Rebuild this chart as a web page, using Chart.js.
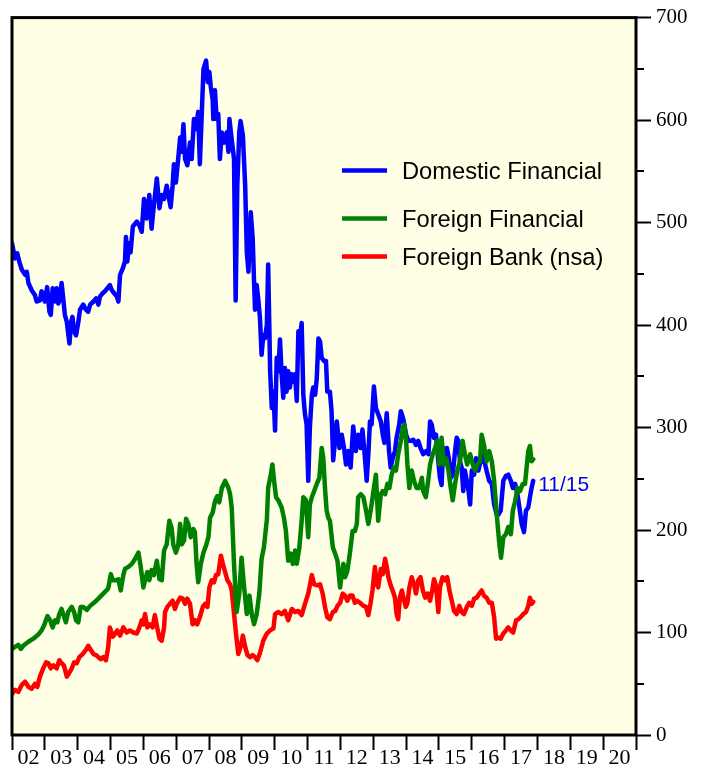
<!DOCTYPE html>
<html>
<head>
<meta charset="utf-8">
<script src="https://cdn.jsdelivr.net/npm/chart.js@4/dist/chart.umd.min.js"></script>
<style>
html,body{margin:0;padding:0;background:#fff;}
canvas{display:block;}
</style>
</head>
<body>
<canvas id="c" width="708" height="767"></canvas>
<script>
// ---- Data (decimal year, level) ----
const yearLabels = ['02','03','04','05','06','07','08','09','10','11','12','13','14','15','16','17','18','19','20'];
const yTickValues = [0,100,200,300,400,500,600,700];
const endLabel = '11/15';

const seriesNames = ['Domestic Financial','Foreign Financial','Foreign Bank (nsa)'];

const domYears = [2002.00,2002.09,2002.16,2002.22,2002.30,2002.40,2002.45,2002.50,2002.60,2002.70,2002.75,2002.85,2002.90,2002.95,2003.00,2003.07,2003.14,2003.18,2003.24,2003.31,2003.36,2003.41,2003.46,2003.51,2003.56,2003.61,2003.67,2003.71,2003.75,2003.80,2003.84,2003.89,2003.95,2004.02,2004.07,2004.17,2004.25,2004.32,2004.38,2004.48,2004.56,2004.63,2004.68,2004.76,2004.83,2004.93,2004.98,2005.04,2005.11,2005.19,2005.24,2005.29,2005.37,2005.44,2005.47,2005.51,2005.57,2005.61,2005.68,2005.75,2005.80,2005.88,2005.95,2006.02,2006.10,2006.18,2006.25,2006.32,2006.41,2006.49,2006.56,2006.63,2006.71,2006.76,2006.83,2006.89,2006.93,2006.99,2007.06,2007.12,2007.17,2007.22,2007.27,2007.34,2007.42,2007.47,2007.54,2007.60,2007.67,2007.72,2007.78,2007.83,2007.91,2007.96,2008.01,2008.05,2008.11,2008.13,2008.18,2008.23,2008.28,2008.33,2008.39,2008.46,2008.54,2008.59,2008.62,2008.69,2008.76,2008.81,2008.86,2008.92,2008.96,2009.03,2009.10,2009.15,2009.20,2009.27,2009.33,2009.37,2009.40,2009.45,2009.50,2009.55,2009.60,2009.65,2009.70,2009.76,2009.80,2009.86,2009.91,2009.96,2010.01,2010.06,2010.11,2010.16,2010.21,2010.26,2010.31,2010.36,2010.41,2010.46,2010.52,2010.57,2010.62,2010.67,2010.72,2010.77,2010.82,2010.87,2010.92,2010.97,2011.02,2011.07,2011.13,2011.17,2011.23,2011.28,2011.33,2011.38,2011.43,2011.50,2011.56,2011.60,2011.68,2011.73,2011.78,2011.89,2011.97,2012.04,2012.11,2012.17,2012.24,2012.31,2012.39,2012.47,2012.54,2012.62,2012.67,2012.73,2012.80,2012.85,2012.90,2012.95,2013.02,2013.08,2013.15,2013.23,2013.29,2013.34,2013.41,2013.48,2013.53,2013.59,2013.66,2013.71,2013.79,2013.84,2013.91,2014.00,2014.07,2014.14,2014.22,2014.30,2014.37,2014.44,2014.52,2014.61,2014.68,2014.73,2014.78,2014.85,2014.91,2014.98,2015.03,2015.08,2015.13,2015.18,2015.24,2015.30,2015.36,2015.42,2015.49,2015.54,2015.59,2015.64,2015.69,2015.74,2015.79,2015.85,2015.89,2015.95,2016.00,2016.07,2016.13,2016.20,2016.25,2016.30,2016.35,2016.40,2016.45,2016.53,2016.61,2016.68,2016.76,2016.81,2016.88,2016.96,2017.04,2017.11,2017.19,2017.25,2017.32,2017.39,2017.45,2017.52,2017.59,2017.65,2017.72,2017.77,2017.82,2017.87];
const domValues = [480,465,470,462,454,449,452,441,434,429,423,424,433,428,423,437,413,410,436,423,436,421,426,441,426,410,403,392,382,403,408,394,390,403,415,420,415,413,420,423,426,420,428,431,433,437,439,434,431,428,423,449,455,462,486,462,480,471,496,499,501,497,491,523,504,527,494,517,543,514,527,523,536,527,515,536,557,539,562,583,569,596,562,556,578,562,601,591,608,557,608,650,658,637,647,633,620,601,629,601,606,562,588,578,588,569,601,581,562,424,536,588,599,585,536,471,452,510,484,442,415,439,425,407,371,390,387,400,459,355,319,335,297,368,355,386,352,329,358,335,355,339,352,345,352,326,394,387,402,332,313,303,248,300,332,339,332,348,387,384,368,365,365,335,335,316,268,306,280,293,280,264,277,261,301,277,293,280,298,277,248,274,306,303,340,319,313,306,293,285,314,277,261,270,277,290,303,316,309,293,287,287,288,283,287,280,274,277,274,306,303,290,293,267,251,244,280,270,280,270,251,254,277,290,287,267,261,238,258,248,241,225,258,254,270,258,265,267,274,265,258,248,245,225,215,215,219,248,253,254,248,241,245,235,222,206,198,219,222,232,241,248];

const forYears = [2002.00,2002.09,2002.19,2002.27,2002.34,2002.50,2002.65,2002.80,2002.90,2002.98,2003.08,2003.16,2003.24,2003.31,2003.38,2003.44,2003.51,2003.56,2003.64,2003.71,2003.82,2003.89,2003.95,2004.02,2004.09,2004.17,2004.28,2004.38,2004.53,2004.66,2004.78,2004.93,2005.01,2005.07,2005.17,2005.24,2005.31,2005.39,2005.44,2005.54,2005.65,2005.75,2005.85,2005.92,2006.00,2006.05,2006.12,2006.18,2006.25,2006.32,2006.41,2006.49,2006.56,2006.63,2006.71,2006.79,2006.86,2006.91,2006.99,2007.06,2007.12,2007.17,2007.24,2007.30,2007.37,2007.44,2007.52,2007.57,2007.62,2007.67,2007.75,2007.83,2007.91,2007.98,2008.03,2008.11,2008.18,2008.25,2008.31,2008.39,2008.49,2008.59,2008.64,2008.69,2008.76,2008.84,2008.92,2008.99,2009.06,2009.15,2009.23,2009.30,2009.37,2009.45,2009.53,2009.60,2009.67,2009.76,2009.80,2009.88,2009.93,2009.98,2010.04,2010.11,2010.21,2010.28,2010.34,2010.41,2010.49,2010.55,2010.62,2010.67,2010.75,2010.82,2010.87,2010.95,2011.02,2011.07,2011.13,2011.20,2011.28,2011.36,2011.43,2011.48,2011.53,2011.58,2011.63,2011.68,2011.77,2011.84,2011.91,2011.99,2012.04,2012.09,2012.14,2012.21,2012.27,2012.31,2012.37,2012.44,2012.50,2012.54,2012.62,2012.70,2012.78,2012.85,2012.90,2012.95,2013.02,2013.08,2013.15,2013.23,2013.29,2013.36,2013.43,2013.49,2013.56,2013.63,2013.69,2013.76,2013.84,2013.90,2013.95,2014.00,2014.04,2014.10,2014.17,2014.24,2014.32,2014.40,2014.48,2014.52,2014.60,2014.66,2014.73,2014.81,2014.88,2014.95,2015.01,2015.08,2015.15,2015.22,2015.29,2015.36,2015.42,2015.49,2015.56,2015.64,2015.72,2015.79,2015.86,2015.95,2016.03,2016.10,2016.17,2016.25,2016.30,2016.37,2016.45,2016.53,2016.61,2016.68,2016.76,2016.84,2016.89,2016.96,2017.04,2017.11,2017.19,2017.25,2017.32,2017.39,2017.47,2017.55,2017.62,2017.67,2017.72,2017.77,2017.82,2017.87];
const forValues = [84,86,88,84,87,91,94,98,102,107,116,112,105,112,110,118,123,118,110,120,125,120,112,110,125,125,122,126,130,134,138,143,157,151,151,152,141,156,162,164,167,172,178,164,144,151,159,151,161,156,170,152,151,180,186,209,202,186,178,185,206,186,190,211,206,193,201,198,167,149,167,178,185,193,212,217,228,233,227,241,248,241,235,222,167,120,138,173,147,118,136,118,108,118,138,172,183,210,241,254,264,248,232,229,222,212,199,170,177,167,180,167,183,209,232,229,193,225,232,238,245,251,280,270,241,219,212,209,183,177,170,144,157,167,154,160,173,183,199,199,206,232,235,232,219,206,215,225,241,254,209,235,238,235,245,241,254,261,258,274,287,300,303,287,264,241,258,248,241,241,251,238,232,245,264,274,280,287,264,290,264,270,258,241,229,245,258,267,287,274,264,274,264,258,264,267,293,283,267,277,267,248,215,186,173,193,196,203,196,219,228,241,238,245,245,261,277,282,267,269];

const bankYears = [2002.00,2002.09,2002.19,2002.30,2002.40,2002.50,2002.60,2002.70,2002.77,2002.85,2002.95,2003.04,2003.11,2003.18,2003.26,2003.36,2003.44,2003.51,2003.58,2003.67,2003.75,2003.82,2003.89,2003.97,2004.05,2004.15,2004.25,2004.32,2004.40,2004.48,2004.56,2004.63,2004.70,2004.78,2004.86,2004.93,2004.98,2005.07,2005.14,2005.21,2005.29,2005.39,2005.49,2005.59,2005.69,2005.80,2005.88,2005.95,2006.00,2006.05,2006.12,2006.20,2006.28,2006.35,2006.42,2006.49,2006.56,2006.63,2006.66,2006.73,2006.81,2006.89,2006.96,2007.03,2007.12,2007.20,2007.27,2007.34,2007.42,2007.50,2007.57,2007.64,2007.72,2007.81,2007.88,2007.95,2008.01,2008.08,2008.15,2008.21,2008.28,2008.36,2008.42,2008.49,2008.56,2008.64,2008.69,2008.74,2008.82,2008.89,2008.96,2009.03,2009.10,2009.17,2009.25,2009.33,2009.40,2009.47,2009.55,2009.65,2009.76,2009.86,2009.96,2010.01,2010.11,2010.21,2010.31,2010.41,2010.52,2010.62,2010.72,2010.82,2010.92,2011.02,2011.13,2011.20,2011.30,2011.38,2011.46,2011.53,2011.60,2011.68,2011.77,2011.84,2011.91,2011.99,2012.07,2012.14,2012.21,2012.29,2012.37,2012.44,2012.51,2012.60,2012.70,2012.78,2012.85,2012.92,2012.98,2013.05,2013.11,2013.15,2013.23,2013.29,2013.36,2013.41,2013.46,2013.53,2013.59,2013.66,2013.71,2013.76,2013.81,2013.87,2013.92,2013.99,2014.04,2014.10,2014.17,2014.24,2014.30,2014.37,2014.44,2014.51,2014.58,2014.65,2014.73,2014.80,2014.85,2014.91,2014.98,2015.03,2015.11,2015.18,2015.25,2015.32,2015.39,2015.46,2015.54,2015.62,2015.69,2015.76,2015.85,2015.92,2016.00,2016.07,2016.15,2016.23,2016.30,2016.37,2016.45,2016.53,2016.61,2016.68,2016.74,2016.81,2016.88,2016.96,2017.04,2017.11,2017.19,2017.26,2017.35,2017.42,2017.49,2017.57,2017.65,2017.72,2017.77,2017.82,2017.87];
const bankValues = [40,44,42,49,52,47,45,50,47,57,65,71,70,65,68,65,73,70,68,57,61,65,71,70,76,79,83,87,83,79,78,76,74,76,73,86,105,96,99,102,97,105,100,102,100,99,105,112,108,118,105,108,105,117,105,94,92,105,120,125,128,131,123,129,134,133,128,133,128,108,112,108,115,125,128,125,144,151,149,156,157,175,167,159,151,147,141,125,99,79,86,97,86,78,76,78,76,73,80,92,99,102,104,118,120,118,121,112,123,120,121,117,128,138,156,147,146,147,138,125,115,113,120,121,126,129,138,136,131,136,136,129,131,129,126,125,117,129,142,164,147,144,162,157,172,164,154,146,141,134,118,113,134,141,134,125,129,144,154,147,138,151,154,141,134,138,131,142,152,146,120,144,154,151,154,141,131,121,118,126,120,118,125,129,126,133,134,138,141,136,134,129,129,115,94,95,94,99,102,105,102,100,112,113,115,118,120,126,134,128,130];

// ---- Styles ----
const COLORS = ['#0000FF', '#008000', '#FF0000'];
const PLOT_BG = '#FFFFE6';
const SERIF = 'Liberation Serif';
const SANS = 'Liberation Sans';

function toPoints(xs, ys) { return xs.map((x, i) => ({ x: x, y: ys[i] })); }

const bgPlugin = {
  id: 'bg',
  beforeDraw(chart) {
    const { ctx, chartArea: a } = chart;
    ctx.save();
    ctx.fillStyle = '#ffffff';
    ctx.fillRect(0, 0, chart.width, chart.height);
    ctx.fillStyle = PLOT_BG;
    ctx.fillRect(a.left, a.top, a.right - a.left, a.bottom - a.top);
    ctx.restore();
  }
};

const framePlugin = {
  id: 'frame',
  afterDraw(chart) {
    const { ctx, chartArea: a } = chart;
    const ys = chart.scales.y;
    const xs = chart.scales.x;
    ctx.save();
    // minor ticks on right axis (50s)
    ctx.strokeStyle = '#000';
    ctx.lineWidth = 2;
    for (let v = 50; v < 700; v += 100) {
      const py = Math.round(ys.getPixelForValue(v));
      ctx.beginPath();
      ctx.moveTo(a.right, py);
      ctx.lineTo(a.right + 8, py);
      ctx.stroke();
    }
    // frame
    ctx.lineWidth = 3;
    ctx.strokeStyle = '#000';
    ctx.strokeRect(a.left, a.top, a.right - a.left, a.bottom - a.top);

    // legend
    const rows = [
      { dy: 153, color: COLORS[0], text: seriesNames[0] },
      { dy: 201, color: COLORS[1], text: seriesNames[1] },
      { dy: 239, color: COLORS[2], text: seriesNames[2] }
    ];
    ctx.font = '23.7px "' + SANS + '"';
    ctx.textAlign = 'left';
    ctx.textBaseline = 'alphabetic';
    rows.forEach(r => {
      const y = a.top + r.dy;
      ctx.strokeStyle = r.color;
      ctx.lineWidth = 4.5;
      ctx.beginPath();
      ctx.moveTo(a.left + 330, y);
      ctx.lineTo(a.left + 375, y);
      ctx.stroke();
      ctx.fillStyle = '#000';
      ctx.fillText(r.text, a.left + 390, y + 8);
    });

    // end label for domestic series
    const lastX = domYears[domYears.length - 1];
    const lastY = domValues[domValues.length - 1];
    ctx.fillStyle = COLORS[0];
    ctx.font = '21px "' + SANS + '"';
    ctx.fillText(endLabel, xs.getPixelForValue(lastX) + 5, ys.getPixelForValue(lastY) + 10);
    ctx.restore();
  }
};

const ctx = document.getElementById('c').getContext('2d');
new Chart(ctx, {
  type: 'line',
  data: {
    datasets: [
      { label: seriesNames[1], data: toPoints(forYears, forValues), borderColor: COLORS[1], order: 0 },
      { label: seriesNames[0], data: toPoints(domYears, domValues), borderColor: COLORS[0], order: 1 },
      { label: seriesNames[2], data: toPoints(bankYears, bankValues), borderColor: COLORS[2], order: 2 }
    ]
  },
  options: {
    responsive: false,
    animation: false,
    devicePixelRatio: 1,
    layout: { padding: { left: 12, top: 15, right: 0, bottom: 0 } },
    elements: {
      line: { borderWidth: 4.5, tension: 0, borderJoinStyle: 'round', borderCapStyle: 'round', fill: false },
      point: { radius: 0, hoverRadius: 0 }
    },
    plugins: { legend: { display: false }, tooltip: { enabled: false } },
    scales: {
      x: {
        type: 'linear', position: 'bottom', min: 2002, max: 2021, weight: 0,
        afterFit: s => { s.height = 2; },
        ticks: { stepSize: 1, autoSkip: false, maxRotation: 0, padding: 0, callback: () => '' },
        grid: { drawOnChartArea: false, drawTicks: true, tickLength: 15, tickColor: '#000', tickWidth: 2 },
        border: { display: false }
      },
      x2: {
        type: 'linear', position: 'bottom', min: 2002, max: 2021, weight: 1,
        afterBuildTicks: s => { s.ticks = yearLabels.map((l, i) => ({ value: 2002.5 + i })); },
        afterFit: s => { s.height = 30; },
        ticks: { autoSkip: false, maxRotation: 0, minRotation: 0, padding: 0, color: '#000',
                 font: { family: SERIF, size: 22 }, callback: (v, i) => yearLabels[i] },
        grid: { display: false },
        border: { display: false }
      },
      y: {
        position: 'right', min: 0, max: 700,
        afterFit: s => { s.width = 72; },
        afterBuildTicks: s => { s.ticks = yTickValues.map(v => ({ value: v })); },
        ticks: { padding: 5, color: '#000', font: { family: SERIF, size: 21 }, callback: v => String(v) },
        grid: { drawOnChartArea: false, drawTicks: true, tickLength: 15, tickColor: '#000', tickWidth: 2 },
        border: { display: false }
      }
    }
  },
  plugins: [bgPlugin, framePlugin]
});
</script>
</body>
</html>
